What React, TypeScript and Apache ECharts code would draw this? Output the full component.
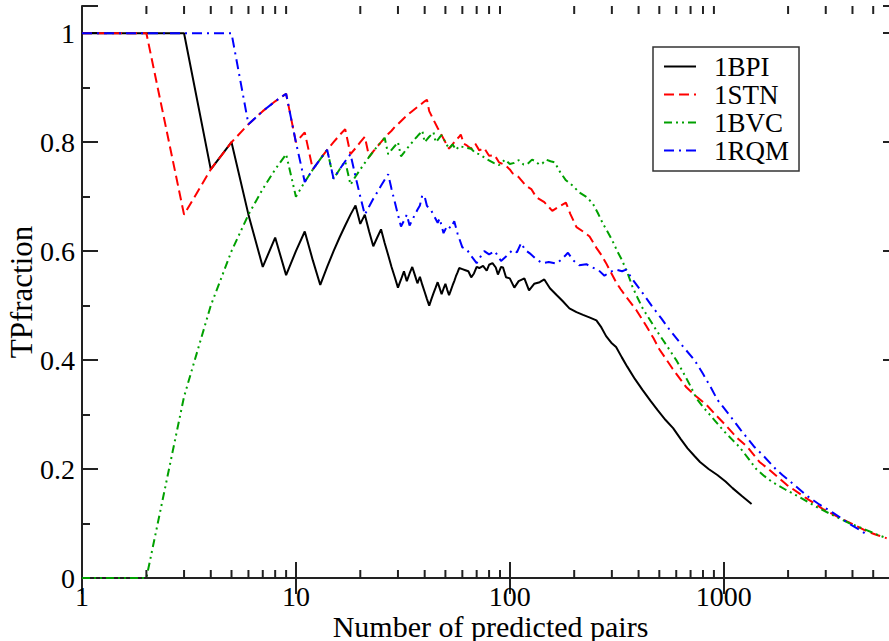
import React, { useEffect, useRef } from "react";
import * as echarts from "echarts";

const seriesNames = ["1BPI", "1STN", "1BVC", "1RQM"];
const seriesColors = ["#000000", "#ff0000", "#00a000", "#0000ff"];

const bpi: [number, number][] = [
  [1, 1], [2, 1], [3, 1], [4, 0.75], [5, 0.8], [6, 0.667], [7, 0.571], [8, 0.625], [9, 0.556], [10, 0.6],
  [11, 0.636], [12, 0.583], [13, 0.538], [14, 0.571], [15, 0.6], [16, 0.625], [17, 0.647], [18, 0.667], [19, 0.684],
  [20, 0.65], [21, 0.667], [22, 0.636], [23, 0.609], [24, 0.625], [25, 0.64], [26, 0.615], [27, 0.593], [28, 0.571],
  [29, 0.552], [30, 0.533], [31, 0.548], [32, 0.563], [33, 0.545], [34, 0.559], [35, 0.571], [36, 0.556], [37, 0.541],
  [38, 0.553], [39, 0.538], [40, 0.525], [41, 0.512], [42, 0.5], [43, 0.512], [44, 0.523], [45, 0.533], [46, 0.543],
  [47, 0.532], [48, 0.521], [49, 0.531], [50, 0.54], [51, 0.529], [52, 0.519], [53, 0.528], [54, 0.537], [55, 0.545],
  [56, 0.554], [57, 0.561], [58, 0.569], [60, 0.567], [62, 0.565], [64, 0.563], [66, 0.552], [68, 0.559], [70, 0.571],
  [72, 0.569], [75, 0.573], [78, 0.564], [80, 0.575], [83, 0.578], [86, 0.57], [88, 0.557], [91, 0.571], [93, 0.57],
  [96, 0.552], [100, 0.55], [105, 0.533], [110, 0.545], [117, 0.55], [123, 0.528], [130, 0.54], [138, 0.543],
  [145, 0.548], [154, 0.532], [165, 0.52], [177, 0.508], [190, 0.495], [205, 0.488], [220, 0.483], [237, 0.478],
  [254, 0.473], [268, 0.46], [282, 0.444], [298, 0.432], [314, 0.424], [334, 0.405], [354, 0.388], [385, 0.365],
  [418, 0.345], [455, 0.325], [491, 0.308], [535, 0.29], [580, 0.275], [630, 0.255], [678, 0.238], [730, 0.224],
  [775, 0.213], [850, 0.2], [934, 0.189], [1020, 0.177], [1100, 0.165], [1220, 0.15], [1350, 0.136],
];

const stn: [number, number][] = [
  [1, 1], [2, 1], [3, 0.667], [4, 0.75], [5, 0.8], [6, 0.833], [7, 0.857], [8, 0.875], [9, 0.889], [10, 0.8],
  [11, 0.818], [12, 0.75], [13, 0.769], [14, 0.786], [15, 0.8], [16, 0.813], [17, 0.824], [18, 0.778], [19, 0.789],
  [20, 0.8], [21, 0.81], [22, 0.773], [23, 0.783], [24, 0.792], [25, 0.8], [26, 0.808], [27, 0.815], [28, 0.821],
  [29, 0.828], [30, 0.833], [32, 0.844], [34, 0.853], [36, 0.861], [38, 0.868], [40, 0.875], [41, 0.878], [42, 0.857],
  [44, 0.841], [46, 0.826], [48, 0.813], [50, 0.8], [52, 0.788], [54, 0.796], [56, 0.804], [58, 0.81], [59, 0.814],
  [61, 0.797], [63, 0.794], [66, 0.788], [69, 0.797], [72, 0.785], [76, 0.789], [80, 0.775], [85, 0.776], [89, 0.763],
  [95, 0.758], [100, 0.75], [103, 0.743], [110, 0.736], [119, 0.72], [126, 0.714], [133, 0.699], [145, 0.69],
  [158, 0.674], [170, 0.682], [183, 0.689], [192, 0.668], [205, 0.644], [220, 0.636], [236, 0.627], [254, 0.606],
  [268, 0.593], [282, 0.578], [298, 0.56], [314, 0.543], [330, 0.53], [350, 0.516], [390, 0.492], [434, 0.463],
  [470, 0.44], [500, 0.42], [577, 0.384], [669, 0.35], [745, 0.333], [830, 0.318], [930, 0.297], [1030, 0.279],
  [1150, 0.258], [1294, 0.24], [1470, 0.213], [1620, 0.2], [1970, 0.171], [2400, 0.148], [2900, 0.127],
  [3500, 0.11], [4100, 0.097], [4650, 0.086], [5200, 0.079], [5780, 0.073],
];

const bvc: [number, number][] = [
  [1, 0], [2, 0], [3, 0.333], [4, 0.5], [5, 0.6], [6, 0.667], [7, 0.714], [8, 0.75], [9, 0.778], [10, 0.7],
  [11, 0.727], [12, 0.75], [13, 0.769], [14, 0.786], [15, 0.733], [16, 0.75], [17, 0.765], [18, 0.722], [19, 0.737],
  [20, 0.75], [21, 0.762], [22, 0.773], [23, 0.783], [24, 0.792], [25, 0.8], [26, 0.808], [27, 0.778], [28, 0.786],
  [29, 0.793], [30, 0.8], [31, 0.774], [32, 0.781], [33, 0.788], [34, 0.794], [35, 0.8], [36, 0.806], [37, 0.811],
  [38, 0.816], [39, 0.821], [40, 0.8], [41, 0.805], [42, 0.81], [43, 0.814], [44, 0.818], [45, 0.8], [46, 0.804],
  [47, 0.809], [48, 0.813], [50, 0.8], [52, 0.788], [54, 0.796], [56, 0.786], [58, 0.793], [62, 0.79], [66, 0.788],
  [69, 0.78], [72, 0.778], [78, 0.769], [84, 0.762], [89, 0.758], [95, 0.768], [100, 0.76], [105, 0.762], [110, 0.767],
  [116, 0.759], [121, 0.76], [127, 0.768], [132, 0.765], [137, 0.759], [142, 0.761], [148, 0.768], [155, 0.765],
  [162, 0.763], [172, 0.745], [183, 0.73], [197, 0.72], [211, 0.708], [227, 0.7], [244, 0.688], [258, 0.67],
  [272, 0.651], [286, 0.636], [301, 0.62], [318, 0.6], [335, 0.583], [355, 0.56], [375, 0.534], [395, 0.515],
  [418, 0.495], [450, 0.475], [484, 0.455], [520, 0.437], [560, 0.418], [600, 0.4], [645, 0.378], [700, 0.352],
  [745, 0.33], [800, 0.314], [860, 0.3], [1000, 0.27], [1090, 0.255], [1188, 0.24], [1300, 0.22], [1420, 0.2],
  [1550, 0.187], [1690, 0.176], [1950, 0.162], [2250, 0.149], [2700, 0.131], [3210, 0.116], [3900, 0.1],
  [4650, 0.088], [5200, 0.08], [5780, 0.073],
];

const rqm: [number, number][] = [
  [1, 1], [2, 1], [3, 1], [4, 1], [5, 1], [6, 0.833], [7, 0.857], [8, 0.875], [9, 0.889], [10, 0.8],
  [11, 0.727], [12, 0.75], [13, 0.769], [14, 0.786], [15, 0.733], [16, 0.75], [17, 0.765], [18, 0.778], [19, 0.737],
  [20, 0.7], [21, 0.667], [22, 0.682], [23, 0.696], [24, 0.708], [25, 0.72], [26, 0.731], [27, 0.741], [28, 0.714],
  [29, 0.69], [30, 0.667], [31, 0.645], [32, 0.656], [33, 0.667], [34, 0.647], [35, 0.657], [36, 0.667], [37, 0.676],
  [38, 0.684], [39, 0.703], [40, 0.7], [41, 0.683], [43, 0.674], [46, 0.652], [47, 0.66], [49, 0.633], [51, 0.647],
  [53, 0.642], [55, 0.655], [57, 0.632], [60, 0.607], [63, 0.603], [66, 0.591], [70, 0.578], [73, 0.59], [76, 0.6],
  [80, 0.594], [85, 0.6], [91, 0.582], [96, 0.59], [103, 0.602], [108, 0.598], [113, 0.615], [118, 0.602],
  [124, 0.596], [133, 0.585], [142, 0.578], [152, 0.58], [165, 0.577], [175, 0.585], [187, 0.597], [198, 0.583],
  [211, 0.574], [228, 0.576], [244, 0.57], [260, 0.565], [277, 0.555], [295, 0.562], [314, 0.566], [335, 0.563],
  [350, 0.566], [362, 0.557], [375, 0.548], [418, 0.523], [460, 0.5], [510, 0.477], [560, 0.455], [645, 0.425],
  [730, 0.4], [800, 0.375], [870, 0.35], [935, 0.327], [1060, 0.3], [1200, 0.272], [1396, 0.24], [1520, 0.226],
  [1750, 0.2], [1880, 0.189], [2150, 0.17], [2430, 0.152], [2800, 0.135], [3210, 0.121], [3600, 0.108],
  [3960, 0.097], [4300, 0.089], [4650, 0.08],
];

const xMinorTicks = [
  2, 3, 4, 5, 6, 7, 8, 9,
  20, 30, 40, 50, 60, 70, 80, 90,
  200, 300, 400, 500, 600, 700, 800, 900,
  2000, 3000, 4000, 5000, 6000,
];

const X_MIN = 1;
const X_MAX = 6600;
const Y_MIN = 0;
const Y_MAX = 1.05;

export default function App() {
  const ref = useRef<HTMLDivElement>(null);

  useEffect(() => {
    const chart = echarts.init(ref.current!, null, { renderer: "svg" });
    const font = "'Liberation Serif', 'Times New Roman', serif";
    const axisColor = "#222";

    const lineSeries = (name: string, data: [number, number][], color: string, dash: any) => ({
      type: "line",
      name,
      data,
      symbol: "none",
      showSymbol: false,
      lineStyle: { color, width: 2, type: dash },
      itemStyle: { color },
      emphasis: { disabled: true },
      z: 3,
    });

    const xLabelFmt = (v: number) => {
      const l = Math.log10(v);
      return Math.abs(l - Math.round(l)) < 1e-6 ? String(Math.round(Math.pow(10, Math.round(l)))) : "";
    };
    const yLabelFmt = (v: number) => {
      if (v > 1.001) return "";
      return String(Math.round(v * 10) / 10);
    };

    chart.setOption({
      animation: false,
      backgroundColor: "#ffffff",
      grid: { left: 82, top: 6, right: -10, bottom: 63, outerBoundsMode: "none", containLabel: false },
      xAxis: [
        {
          type: "log",
          logBase: 10,
          min: X_MIN,
          max: X_MAX,
          position: "bottom",
          name: "Number of predicted pairs",
          nameLocation: "middle",
          nameGap: 33,
          nameMoveOverlap: false,
          nameTextStyle: { fontFamily: font, fontSize: 30, color: "#000" },
          axisLine: { show: true, lineStyle: { color: axisColor, width: 2 } },
          axisTick: { show: true, inside: true, length: 16, lineStyle: { color: axisColor, width: 2 } },
          axisLabel: {
            show: true, margin: 4, fontFamily: font, fontSize: 28, color: "#000",
            formatter: xLabelFmt, showMaxLabel: false,
          },
          splitLine: { show: false },
        },
        {
          type: "log",
          logBase: 10,
          min: X_MIN,
          max: X_MAX,
          position: "top",
          axisLine: { show: true, lineStyle: { color: axisColor, width: 2 } },
          axisTick: { show: true, inside: true, length: 16, lineStyle: { color: axisColor, width: 2 } },
          axisLabel: { show: false },
          splitLine: { show: false },
        },
      ],
      yAxis: [
        {
          type: "value",
          min: Y_MIN,
          max: Y_MAX,
          interval: 0.2,
          position: "left",
          name: "TPfraction",
          nameLocation: "middle",
          nameGap: 45,
          nameMoveOverlap: false,
          nameTextStyle: { fontFamily: font, fontSize: 31, color: "#000" },
          axisLine: { show: true, lineStyle: { color: axisColor, width: 2 } },
          axisTick: { show: true, inside: true, length: 16, lineStyle: { color: axisColor, width: 2 } },
          minorTick: { show: true, splitNumber: 2, length: 8, lineStyle: { color: axisColor, width: 2 } },
          axisLabel: {
            show: true, margin: 7, fontFamily: font, fontSize: 28, color: "#000",
            formatter: yLabelFmt, showMaxLabel: false,
          },
          splitLine: { show: false },
        },
        {
          type: "value",
          min: Y_MIN,
          max: Y_MAX,
          interval: 0.2,
          position: "right",
          axisLine: { show: true, lineStyle: { color: axisColor, width: 2 } },
          axisTick: { show: true, inside: true, length: 16, lineStyle: { color: axisColor, width: 2 } },
          minorTick: { show: true, splitNumber: 2, length: 8, lineStyle: { color: axisColor, width: 2 } },
          axisLabel: { show: false },
          splitLine: { show: false },
        },
      ],
      legend: {
        data: seriesNames,
        orient: "vertical",
        left: 653,
        top: 47,
        padding: [6, 10, 7, 10],
        itemGap: 1,
        itemWidth: 32,
        itemHeight: 14,
        borderColor: "#333",
        borderWidth: 1.5,
        backgroundColor: "#fff",
        itemStyle: { opacity: 0 },
        textStyle: { fontFamily: font, fontSize: 27, color: "#000", padding: [0, 0, 0, 13] },
        selectedMode: false,
      },
      series: [
        lineSeries(seriesNames[0], bpi, seriesColors[0], "solid"),
        lineSeries(seriesNames[1], stn, seriesColors[1], [10, 5]),
        lineSeries(seriesNames[2], bvc, seriesColors[2], [8, 4, 2, 4, 2, 4]),
        lineSeries(seriesNames[3], rqm, seriesColors[3], [10, 5, 2, 5]),
        {
          type: "custom",
          name: "minorTicks",
          silent: true,
          clip: false,
          z: 5,
          data: xMinorTicks.map((v) => [v, 0]),
          renderItem: (_params: any, api: any) => {
            const v = api.value(0);
            const b = api.coord([v, Y_MIN]);
            const t = api.coord([v, Y_MAX]);
            return {
              type: "group",
              children: [
                { type: "line", shape: { x1: b[0], y1: b[1], x2: b[0], y2: b[1] - 8 }, style: { stroke: axisColor, lineWidth: 2 } },
                { type: "line", shape: { x1: t[0], y1: t[1], x2: t[0], y2: t[1] + 8 }, style: { stroke: axisColor, lineWidth: 2 } },
              ],
            };
          },
        },
      ],
    });

    return () => chart.dispose();
  }, []);

  return <div ref={ref} style={{ position: "fixed", left: 0, top: 0, width: 889, height: 641 }} />;
}
